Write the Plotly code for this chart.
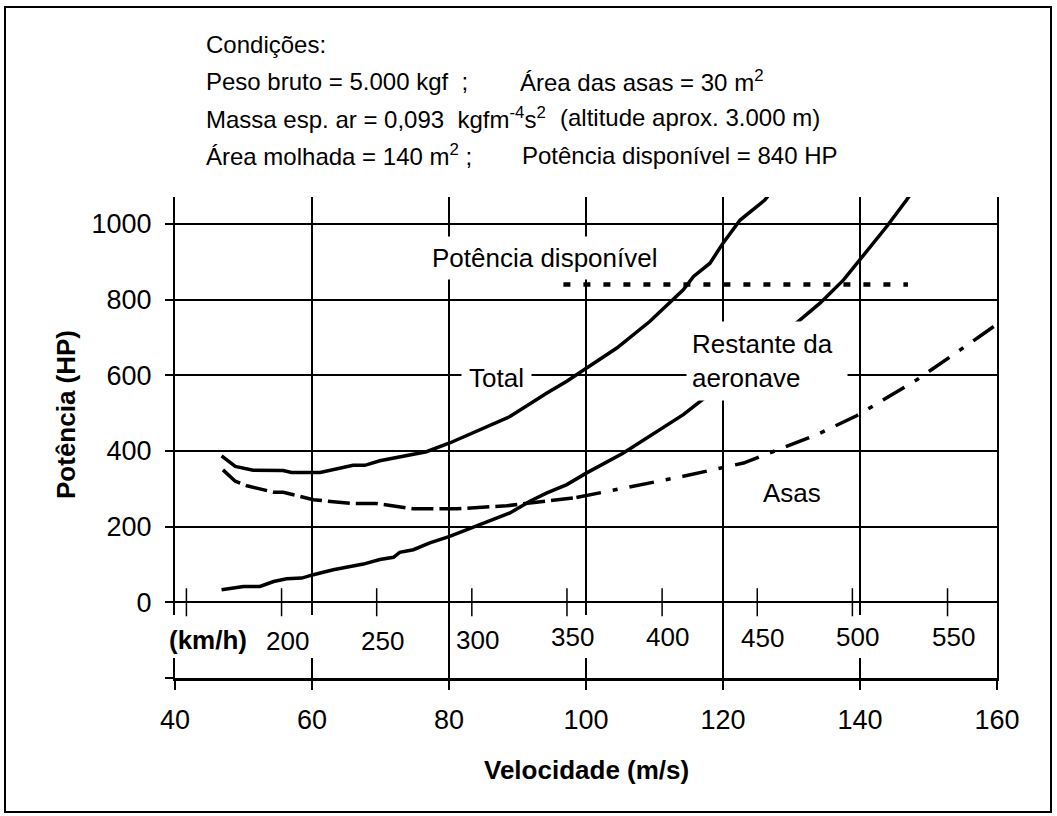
import plotly.graph_objects as go

# ---------------- data ----------------
total_x = [46.8, 48.8, 51.4, 55.8, 57.0, 61.2, 66.0, 67.7, 69.9, 74.7, 76.7, 80.1,
           84.5, 88.9, 94.3, 97.2, 100.1, 104.5, 109.3, 114.2, 115.7, 118.1, 120.0,
           122.5, 126.1, 127.5]
total_y = [387, 359, 349, 348, 343, 343, 362, 362, 374, 390, 398, 421,
           456, 491, 553, 584, 619, 672, 742, 826, 861, 896, 949,
           1010, 1063, 1095]

rest_x = [46.8, 48.0, 50.0, 52.4, 54.4, 56.3, 58.5, 60.2, 63.1, 67.5, 69.9, 71.9,
          72.8, 74.8, 77.2, 80.1, 83.5, 85.5, 88.9, 91.8, 94.3, 97.2, 100.1, 105.4,
          110.8, 114.2, 117.1, 121.0, 124.0, 127.0, 130.7, 134.2, 137.6, 140.0,
          143.9, 146.8, 148.0]
rest_y = [33, 36, 42, 42, 55, 62, 64, 73, 86, 101, 113, 119,
          132, 139, 157, 174, 198, 214, 236, 267, 289, 311, 342, 394,
          456, 496, 537, 595, 643, 690, 738, 791, 852, 905,
          993, 1063, 1095]

asas_x = [47.0, 48.8, 50.5, 54.4, 55.8, 60.2, 66.0, 69.4, 74.8, 81.1, 88.4, 94.3,
          98.6, 104.5, 114.2, 123.0, 128.8, 133.7, 139.5, 148.3, 157.5, 160.0]
asas_y = [350, 320, 308, 291, 291, 271, 261, 261, 247, 247, 255, 267,
          277, 298, 333, 368, 408, 443, 493, 588, 703, 735]
asas_split = 12  # index where the dash style changes

disp_x = [96.7, 147.0]
disp_y = [840, 840]

kmh_ticks = [150, 200, 250, 300, 350, 400, 450, 500, 550]
kmh_labels = ["200", "250", "300", "350", "400", "450", "500", "550"]

x_ticks = [40, 60, 80, 100, 120, 140, 160]
y_ticks = [-200, 0, 200, 400, 600, 800, 1000]
y_ticktext = [" ", "0", "200", "400", "600", "800", "1000"]

# ---------------- figure ----------------
FONT = "Liberation Sans, Arial, sans-serif"
NB = "\u00a0"

fig = go.Figure()

fig.add_trace(go.Scatter(x=total_x, y=total_y, mode="lines",
                         line=dict(color="black", width=3.5)))
fig.add_trace(go.Scatter(x=rest_x, y=rest_y, mode="lines",
                         line=dict(color="black", width=3.5)))
fig.add_trace(go.Scatter(x=asas_x[:asas_split + 1], y=asas_y[:asas_split + 1], mode="lines",
                         line=dict(color="black", width=3.5, dash="22px,6px")))
fig.add_trace(go.Scatter(x=asas_x[asas_split:], y=asas_y[asas_split:], mode="lines",
                         line=dict(color="black", width=3.5, dash="25px,12px,5px,12px")))
fig.add_trace(go.Scatter(x=disp_x, y=disp_y, mode="lines",
                         line=dict(color="black", width=4.5, dash="7px,13px")))
# km/h tick marks on the zero line
fig.add_trace(go.Scatter(x=[k / 3.6 for k in kmh_ticks], y=[0] * len(kmh_ticks),
                         mode="markers",
                         marker=dict(symbol="cross-thin", size=20,
                                     line=dict(color="black", width=1.5)),
                         cliponaxis=False))

ann = []
# header: (text, left pixel x, pixel y)
header_parts = [
    ("Condições:", 204, 44),
    (f"Peso bruto = 5.000 kgf{NB*2};", 204, 81),
    ("Área das asas = 30 m<sup>2</sup>", 518, 81),
    (f"Massa esp. ar = 0,093{NB*2}kgfm<sup>-4</sup>s<sup>2</sup>", 204, 118),
    ("(altitude aprox. 3.000 m)", 558, 118),
    ("Área molhada = 140 m<sup>2</sup> ;", 204, 155),
    ("Potência disponível = 840 HP", 520, 155),
]
for txt, px, py in header_parts:
    ann.append(dict(text=txt, xref="paper", yref="paper",
                    x=(px - 175) / 822, y=(678 - py) / 481,
                    xanchor="left", yanchor="middle", showarrow=False,
                    font=dict(size=24, color="black", family=FONT)))

# in-plot labels
ann.append(dict(text="Potência disponível", x=94.0, y=910, showarrow=False,
                bgcolor="white", borderpad=6,
                font=dict(size=26, color="black", family=FONT)))
ann.append(dict(text="Total", x=87.0, y=593, showarrow=False,
                bgcolor="white", borderpad=7,
                font=dict(size=26, color="black", family=FONT)))
ann.append(dict(text="Restante da<br>aeronave", x=126.4, y=637, showarrow=False,
                bgcolor="white", borderpad=5, align="left", width=150, height=68,
                font=dict(size=26, color="black", family=FONT)))
ann.append(dict(text="Asas", x=130.1, y=290, showarrow=False,
                font=dict(size=26, color="black", family=FONT)))

# km/h labels
kmh_yshift = [-3, -3, -2, 1, 1, 0, 1, 1]
for lab, k, dy in zip(kmh_labels, kmh_ticks[1:], kmh_yshift):
    ann.append(dict(text=lab, x=k / 3.6 + 0.8, y=-95, yshift=dy, showarrow=False,
                    font=dict(size=26, color="black", family=FONT)))
ann.append(dict(text="<b>(km/h)</b>", x=44.8, y=-95, yshift=-2, showarrow=False,
                font=dict(size=26, color="black", family=FONT)))

# axis titles
ann.append(dict(text="<b>Velocidade (m/s)</b>", xref="paper", yref="paper",
                x=0.5, y=(678 - 770) / 481, xanchor="center", yanchor="middle",
                showarrow=False, font=dict(size=26, color="black", family=FONT)))
ann.append(dict(text="<b>Potência (HP)</b>", xref="paper", yref="paper",
                x=(66 - 175) / 822, y=(678 - 415) / 481, textangle=-90,
                xanchor="center", yanchor="middle",
                showarrow=False, font=dict(size=26, color="black", family=FONT)))

shapes = []
# gaps in the vertical lines behind the km/h labels
gap_y0 = (678 - 658) / 481
gap_y1 = (678 - 615) / 481
shapes.append(dict(type="rect", xref="paper", yref="paper", layer="above",
                   x0=-0.006, x1=0.006, y0=gap_y0, y1=gap_y1,
                   fillcolor="white", line=dict(width=0)))
for gx in [60, 100, 140]:
    shapes.append(dict(type="rect", xref="x", yref="paper", layer="above",
                       x0=gx - 0.6, x1=gx + 0.6, y0=gap_y0, y1=gap_y1,
                       fillcolor="white", line=dict(width=0)))
# outer frame
shapes.append(dict(type="rect", xref="paper", yref="paper", layer="above",
                   x0=(5 - 175) / 822, x1=(1051 - 175) / 822,
                   y0=(678 - 812) / 481, y1=(678 - 7) / 481,
                   line=dict(color="black", width=2), fillcolor="rgba(0,0,0,0)"))

fig.update_layout(
    width=1057, height=816,
    margin=dict(l=175, r=60, t=197, b=138, pad=0),
    paper_bgcolor="white", plot_bgcolor="white",
    showlegend=False,
    font=dict(family=FONT, color="black", size=26),
    annotations=ann, shapes=shapes,
    xaxis=dict(range=[40, 160], tickvals=x_ticks, showgrid=True,
               gridcolor="black", gridwidth=1.5, zeroline=False,
               showline=True, linecolor="black", linewidth=3,
               ticks="outside", ticklen=9, tickwidth=1.5, tickcolor="black",
               tickfont=dict(size=27, family=FONT, color="black"),
               ticklabelstandoff=7),
    yaxis=dict(range=[-200, 1071], tickvals=y_ticks, ticktext=y_ticktext,
               showgrid=True, gridcolor="black", gridwidth=1.5, zeroline=False,
               showline=True, linecolor="black", linewidth=2.2, mirror=True,
               ticks="outside", ticklen=8, tickwidth=1.5, tickcolor="black",
               tickfont=dict(size=27, family=FONT, color="black"),
               ticklabelstandoff=8),
)

fig.write_html("out.html", config={"displayModeBar": False},
               post_script="document.body.style.margin='0';")
